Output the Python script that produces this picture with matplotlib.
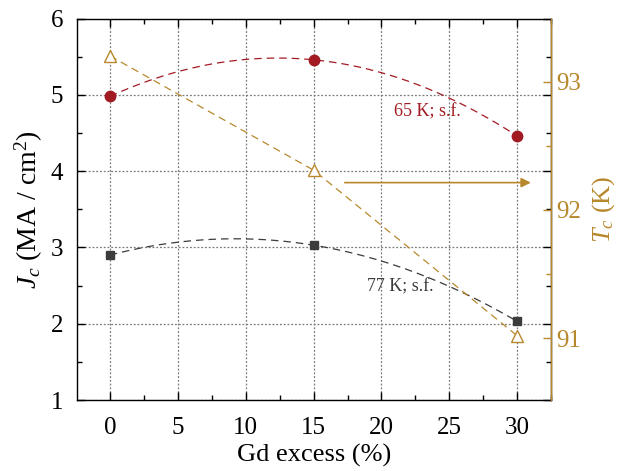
import numpy as np
import matplotlib
matplotlib.use("Agg")
import matplotlib.pyplot as plt
from matplotlib.ticker import MultipleLocator

plt.rcParams['font.family'] = ['Liberation Serif', 'DejaVu Serif']
plt.rcParams['mathtext.fontset'] = 'custom'
plt.rcParams['mathtext.rm'] = 'Liberation Serif'
plt.rcParams['mathtext.it'] = 'Liberation Serif:italic'

# Gd excess (%)
gd_excess = [0, 15, 30]
# Critical current density (MA/cm^2), self field
jc_65k = [4.98, 5.46, 4.46]
jc_77k = [2.90, 3.03, 2.03]
# Critical temperature (K)
tc = [93.2, 92.31, 91.02]

red = '#A31B22'
gray = '#3C3C3C'
gold = '#B8882C'

fig = plt.figure(figsize=(6.2, 4.71), dpi=100)
ax = fig.add_axes([0.124, 0.1507, 0.765, 0.8098])
ax2 = ax.twinx()

# quadratic guide curves through the Jc points
xs = np.linspace(0, 30, 200)
for y, c in [(jc_65k, red), (jc_77k, gray)]:
    p = np.polyfit(gd_excess, y, 2)
    ax.plot(xs, np.polyval(p, xs), ls=(0, (6, 4)), lw=0.9, color=c, zorder=3)

ax.plot(gd_excess, jc_65k, 'o', ms=7.5, color=red, zorder=4)
ax.plot(gd_excess, jc_77k, 's', ms=6, color=gray, zorder=4)

ax2.plot(gd_excess, tc, ls=(0, (6, 4)), lw=0.9, color=gold,
         marker='^', ms=8.5, mfc='white', mec=gold, mew=1.0, zorder=4)

ax.text(20.9, 4.72, '65 K; s.f.', color=red, fontsize=13)
ax.text(18.9, 2.42, '77 K; s.f.', color=gray, fontsize=13)

ax.annotate('', xy=(31.0, 3.85), xytext=(17.3, 3.85),
            arrowprops=dict(arrowstyle='-|>', color=gold, lw=1.2,
                            mutation_scale=14, shrinkA=0, shrinkB=0))

ax.set_xlim(-2.43, 32.5)
ax.set_ylim(1, 6)
ax2.set_ylim(90.52, 93.49)

ax.xaxis.set_major_locator(MultipleLocator(5))
ax.xaxis.set_minor_locator(MultipleLocator(2.5))
ax.yaxis.set_major_locator(MultipleLocator(1))
ax.yaxis.set_minor_locator(MultipleLocator(0.5))
ax2.yaxis.set_major_locator(MultipleLocator(1))
ax2.yaxis.set_minor_locator(MultipleLocator(0.5))

ax.grid(True, which='major', ls=(0, (1.5, 1.5)), color='#7a7a7a', lw=0.9)
ax.set_axisbelow(True)

ax.tick_params(which='both', direction='in', top=True, right=True,
               labelsize=18, width=1.0, color='black')
ax.tick_params(which='major', length=6)
ax.tick_params(which='minor', length=3.5)
ax.tick_params(axis='x', pad=12)
ax.tick_params(axis='y', pad=10)

ax2.tick_params(which='both', direction='in', colors=gold, labelsize=18, width=1.0)
ax2.tick_params(which='major', length=6)
ax2.tick_params(which='minor', length=3.5)
ax2.spines['right'].set_color(gold)
for s in ['left', 'top', 'bottom']:
    ax2.spines[s].set_visible(False)
for s in ax.spines.values():
    s.set_linewidth(1.0)
ax2.spines['right'].set_linewidth(1.0)

ax.set_xlabel('Gd excess (%)', fontsize=19, labelpad=4)
ax.set_ylabel(r'$J_c$ (MA / cm$^2$)', fontsize=20, labelpad=4)
ax2.set_ylabel(r'$T_c$ (K)', fontsize=19, color=gold, labelpad=7)

fig.savefig('out.png', dpi=100)
